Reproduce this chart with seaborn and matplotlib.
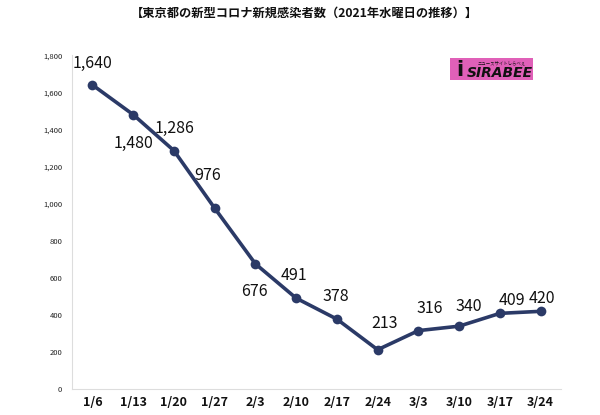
import matplotlib
matplotlib.use("Agg")
import matplotlib.pyplot as plt
import seaborn as sns
import pandas as pd
from matplotlib.patches import Rectangle

dates = ["1/6", "1/13", "1/20", "1/27", "2/3", "2/10", "2/17", "2/24", "3/3", "3/10", "3/17", "3/24"]
cases = [1640, 1480, 1286, 976, 676, 491, 378, 213, 316, 340, 409, 420]
yticks = [0, 200, 400, 600, 800, 1000, 1200, 1400, 1600, 1800]
title = "【東京都の新型コロナ新規感染者数（2021年水曜日の推移）】"
# label offsets in pixels (dx, dy)
label_offsets = [(0, 21), (0, -29), (1, 22), (-7, 33), (-1, -28), (-2, 23), (-1, 23), (7, 26), (11, 22), (10, 20), (12, 13), (1, 13)]

sns.set_theme(style="white")
plt.rcParams['font.family'] = ['Noto Sans CJK JP', 'DejaVu Sans']

df = pd.DataFrame({"date": dates, "cases": cases})
df["pos"] = range(len(dates))

fig = plt.figure(figsize=(6.0, 4.15), dpi=100)
ax = fig.add_axes([0.12, 0.062, 0.815, 0.805])

sns.lineplot(data=df, x="pos", y="cases", ax=ax, color="#2b3a67", linewidth=2.6,
             marker="o", markersize=7, markeredgewidth=0, markerfacecolor="#2b3a67")

ax.set_xlim(-0.5, len(dates) - 0.5)
ax.set_ylim(0, 1800)
ax.set_xticks(df["pos"])
ax.set_xticklabels(dates, fontsize=9, fontweight="bold", color="#111111")
ax.set_yticks(yticks)
ax.set_yticklabels([f"{v:,}" for v in yticks], fontsize=5.5, color="#222222")
ax.tick_params(axis="x", length=0, pad=5)
ax.tick_params(axis="y", length=0, pad=7)
ax.set_xlabel("")
ax.set_ylabel("")
for s in ["top", "right"]:
    ax.spines[s].set_visible(False)
for s in ["left", "bottom"]:
    ax.spines[s].set_color("#dddddd")
    ax.spines[s].set_linewidth(0.8)

for p, v, (dx, dy) in zip(df["pos"], df["cases"], label_offsets):
    ax.annotate(f"{v:,}", (p, v), xytext=(dx, dy), textcoords="offset pixels",
                ha="center", va="center", fontsize=11.5, color="#111111")

fig.text(0.507, 0.967, title, ha="center", va="center", fontsize=8.8, fontweight="bold", color="#111111")

# logo
logo = Rectangle((450 / 600, 1 - 80 / 415), 83 / 600, 22 / 415, transform=fig.transFigure,
                 facecolor="#e060b8", edgecolor="none")
fig.patches.append(logo)
fig.text(500 / 600, 1 - 73 / 415, "SIRABEE", ha="center", va="center", fontsize=10,
         fontweight="bold", style="italic", color="#111111", family=["DejaVu Sans"])
fig.text(460 / 600, 1 - 70 / 415, "i", ha="center", va="center", fontsize=15,
         fontweight="bold", color="#111111", family=["DejaVu Sans"])
fig.text(502 / 600, 1 - 62.5 / 415, "ニュースサイトしらべぇ", ha="center", va="center", fontsize=3.2,
         color="#111111")

fig.savefig("out.png", dpi=100)
